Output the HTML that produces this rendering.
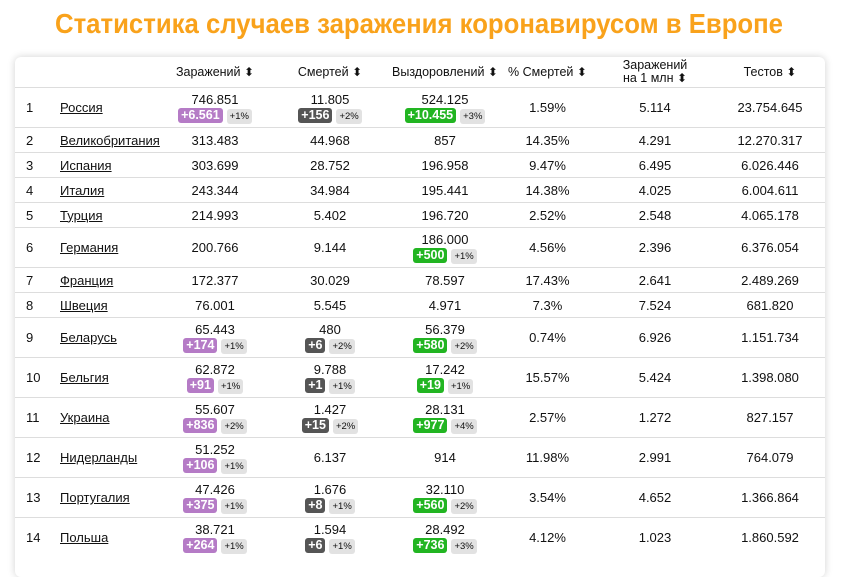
<!DOCTYPE html>
<html><head><meta charset="utf-8">
<style>
body{margin:0;width:842px;height:559px;overflow:hidden;background:#fff;font-family:"Liberation Sans",sans-serif;color:#111;position:relative}
.title{position:absolute;left:55px;top:8px;width:728px;height:36px;white-space:nowrap;font-weight:bold;font-size:28px;color:#f9a21b;transform-origin:0 0;}
.card{position:absolute;left:15px;top:57px;width:810px;height:520px;box-shadow:0 0 8px rgba(0,0,0,0.18);border-radius:6px;background:#fff}
table{position:absolute;left:15px;top:57px;width:810px;border-collapse:collapse;font-size:13px;table-layout:fixed}
th{font-weight:normal;font-size:12.5px;height:30px;padding:0;line-height:13px}
td{padding:0;text-align:center;border-top:1px solid #ddd;line-height:15px}
td.n{text-align:left;padding-left:11px}
td.c{text-align:left}
td.c span{text-decoration:underline}
tr.s td{height:24px}
tr.t td{height:39px}
.b{display:inline-block;color:#fff;font-weight:bold;font-size:12.5px;line-height:15px;padding:0 3px;border-radius:3px;margin-top:0}
.p{background:#b57bc6}.d{background:#555}.g{background:#22b522}
.q{display:inline-block;background:#e2e2e2;font-size:9.5px;line-height:15px;padding:0 3px;border-radius:3px;margin-left:4px}
.ar{font-size:12px}
</style></head><body>
<div class="title" id="t">Статистика случаев заражения коронавирусом в Европе</div>
<div class="card"></div>
<table>
<colgroup><col style="width:45px"><col style="width:100px"><col style="width:110px"><col style="width:120px"><col style="width:110px"><col style="width:95px"><col style="width:120px"><col style="width:110px"></colgroup>
<tr><th></th><th></th><th>Заражений <span class="ar">⬍</span></th><th>Смертей <span class="ar">⬍</span></th><th>Выздоровлений <span class="ar">⬍</span></th><th>% Смертей <span class="ar">⬍</span></th><th>Заражений<br>на 1 млн <span class="ar">⬍</span></th><th>Тестов <span class="ar">⬍</span></th></tr>
<tr class="t"><td class="n">1</td><td class="c"><span>Россия</span></td><td>746.851<br><span class="b p">+6.561</span><span class="q">+1%</span></td><td>11.805<br><span class="b d">+156</span><span class="q">+2%</span></td><td>524.125<br><span class="b g">+10.455</span><span class="q">+3%</span></td><td>1.59%</td><td>5.114</td><td>23.754.645</td></tr>
<tr class="s"><td class="n">2</td><td class="c"><span>Великобритания</span></td><td>313.483</td><td>44.968</td><td>857</td><td>14.35%</td><td>4.291</td><td>12.270.317</td></tr>
<tr class="s"><td class="n">3</td><td class="c"><span>Испания</span></td><td>303.699</td><td>28.752</td><td>196.958</td><td>9.47%</td><td>6.495</td><td>6.026.446</td></tr>
<tr class="s"><td class="n">4</td><td class="c"><span>Италия</span></td><td>243.344</td><td>34.984</td><td>195.441</td><td>14.38%</td><td>4.025</td><td>6.004.611</td></tr>
<tr class="s"><td class="n">5</td><td class="c"><span>Турция</span></td><td>214.993</td><td>5.402</td><td>196.720</td><td>2.52%</td><td>2.548</td><td>4.065.178</td></tr>
<tr class="t"><td class="n">6</td><td class="c"><span>Германия</span></td><td>200.766</td><td>9.144</td><td>186.000<br><span class="b g">+500</span><span class="q">+1%</span></td><td>4.56%</td><td>2.396</td><td>6.376.054</td></tr>
<tr class="s"><td class="n">7</td><td class="c"><span>Франция</span></td><td>172.377</td><td>30.029</td><td>78.597</td><td>17.43%</td><td>2.641</td><td>2.489.269</td></tr>
<tr class="s"><td class="n">8</td><td class="c"><span>Швеция</span></td><td>76.001</td><td>5.545</td><td>4.971</td><td>7.3%</td><td>7.524</td><td>681.820</td></tr>
<tr class="t"><td class="n">9</td><td class="c"><span>Беларусь</span></td><td>65.443<br><span class="b p">+174</span><span class="q">+1%</span></td><td>480<br><span class="b d">+6</span><span class="q">+2%</span></td><td>56.379<br><span class="b g">+580</span><span class="q">+2%</span></td><td>0.74%</td><td>6.926</td><td>1.151.734</td></tr>
<tr class="t"><td class="n">10</td><td class="c"><span>Бельгия</span></td><td>62.872<br><span class="b p">+91</span><span class="q">+1%</span></td><td>9.788<br><span class="b d">+1</span><span class="q">+1%</span></td><td>17.242<br><span class="b g">+19</span><span class="q">+1%</span></td><td>15.57%</td><td>5.424</td><td>1.398.080</td></tr>
<tr class="t"><td class="n">11</td><td class="c"><span>Украина</span></td><td>55.607<br><span class="b p">+836</span><span class="q">+2%</span></td><td>1.427<br><span class="b d">+15</span><span class="q">+2%</span></td><td>28.131<br><span class="b g">+977</span><span class="q">+4%</span></td><td>2.57%</td><td>1.272</td><td>827.157</td></tr>
<tr class="t"><td class="n">12</td><td class="c"><span>Нидерланды</span></td><td>51.252<br><span class="b p">+106</span><span class="q">+1%</span></td><td>6.137</td><td>914</td><td>11.98%</td><td>2.991</td><td>764.079</td></tr>
<tr class="t"><td class="n">13</td><td class="c"><span>Португалия</span></td><td>47.426<br><span class="b p">+375</span><span class="q">+1%</span></td><td>1.676<br><span class="b d">+8</span><span class="q">+1%</span></td><td>32.110<br><span class="b g">+560</span><span class="q">+2%</span></td><td>3.54%</td><td>4.652</td><td>1.366.864</td></tr>
<tr class="t"><td class="n">14</td><td class="c"><span>Польша</span></td><td>38.721<br><span class="b p">+264</span><span class="q">+1%</span></td><td>1.594<br><span class="b d">+6</span><span class="q">+1%</span></td><td>28.492<br><span class="b g">+736</span><span class="q">+3%</span></td><td>4.12%</td><td>1.023</td><td>1.860.592</td></tr>
</table>
<script>
var t=document.getElementById('t');var r=document.createElement('span');r.textContent=t.textContent;t.textContent='';t.appendChild(r);
var w=r.getBoundingClientRect().width;t.style.transform='scaleX('+(728/w)+')';t.style.width=w+'px';
</script>
</body></html>
